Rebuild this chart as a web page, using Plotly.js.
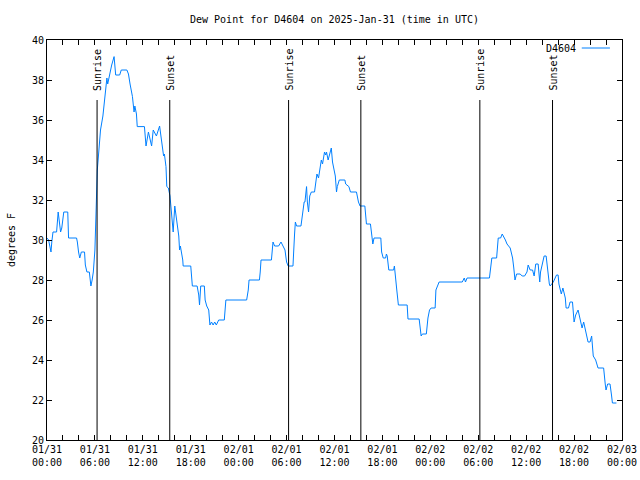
<!DOCTYPE html>
<html>
<head>
<meta charset="utf-8">
<script src="https://cdn.plot.ly/plotly-3.0.1.min.js"></script>
<style>html,body{margin:0;padding:0;background:#fff;}#chart{width:640px;height:480px;}</style>
</head>
<body>
<div id="chart"></div>
<script>
// Hours elapsed since 2025-01-31 00:00 UTC
const startUTC = Date.UTC(2025, 0, 31, 0, 0, 0);
const hoursUTC = [
0.0,0.2,0.4,0.5,0.6,0.75,1.2,1.4,1.55,1.7,1.85,2.1,2.6,2.7,3.7,3.8,3.95,4.1,4.3,4.7,4.8,5.0,5.3,5.4,5.5,5.65,5.8,6.0,6.1,6.25,6.3,6.5,6.7,7.0,7.2,7.4,7.5,7.6,7.9,8.1,8.4,8.5,8.6,9.1,9.3,10.0,10.2,10.4,10.7,10.9,11.0,11.2,11.3,12.2,12.3,12.4,12.7,12.9,13.1,13.3,13.7,14.1,14.3,14.6,14.7,14.9,15.0,
15.2,15.4,15.7,15.8,16.0,16.1,16.3,16.5,16.6,16.7,17.0,17.05,18.0,18.1,18.2,18.8,19.0,19.1,19.25,19.7,19.8,20.0,20.25,20.4,20.6,20.8,21.0,21.2,21.5,22.2,22.3,22.4,25.0,25.2,25.3,26.6,26.7,26.8,28.1,28.2,28.3,28.5,29.0,29.3,29.5,29.8,30.0,30.2,30.8,
30.9,31.0,31.1,31.25,31.8,31.9,32.1,32.2,32.3,32.4,32.5,32.6,32.75,32.9,33.1,33.5,33.7,33.8,34.0,34.2,34.35,34.5,34.75,34.9,35.0,35.2,35.4,35.6,35.75,35.9,36.1,36.25,36.35,36.6,37.3,37.4,37.8,38.0,38.75,39.0,39.2,39.8,39.9,40.0,40.5,40.7,40.8,40.95,41.8,41.9,42.1,42.4,42.5,42.6,42.8,43.4,43.5,43.8,44.0,45.1,
45.2,46.6,46.75,46.85,47.0,47.5,47.7,47.9,48.1,48.6,48.7,48.9,49.1,52.0,52.25,52.4,52.6,55.4,55.7,56.3,56.5,56.8,57.0,57.4,57.6,58.0,58.3,58.45,58.6,58.8,59.25,59.5,59.8,60.1,60.25,60.5,60.8,61.0,61.2,61.5,61.7,61.8,62.0,62.25,62.5,62.7,62.9,63.0,63.4,63.8,64.0,64.1,64.4,64.6,64.9,65.0,65.3,65.5,65.8,
66.0,66.2,66.5,66.8,67.0,67.2,67.5,67.75,68.0,68.2,68.4,68.7,69.0,69.7,69.9,70.0,70.2,70.5,70.7,70.8,71.3
];
const dewPointF = [
30.1,30.0,29.6,29.4,29.9,30.4,30.4,31.4,30.9,30.4,30.6,31.4,31.4,30.1,30.1,29.9,29.4,29.1,29.4,29.4,28.75,28.4,28.4,28.0,27.7,28.0,28.4,29.5,31.2,32.5,33.5,34.5,35.5,36.2,37.0,37.8,38.1,37.8,38.5,38.75,39.17,38.75,38.25,38.25,38.5,38.5,38.3,37.8,37.17,36.4,36.7,36.3,35.67,35.67,34.9,34.7,35.4,35.0,34.7,35.5,35.2,35.7,35.1,34.2,34.3,33.67,32.67,
32.6,32.2,30.9,30.4,31.7,31.4,30.67,30.2,29.5,29.7,29.0,28.7,28.7,28.0,27.7,27.7,27.25,26.75,27.7,27.7,27.0,26.7,26.5,25.75,25.9,25.75,25.9,25.75,26.0,26.0,26.7,27.0,27.0,27.5,28.0,28.0,28.4,29.0,29.0,29.67,29.9,29.7,29.7,29.9,29.7,29.5,28.9,28.7,28.7,
29.25,30.3,30.9,30.7,30.7,31.0,31.67,31.9,31.9,32.3,32.67,31.9,31.4,32.2,32.4,32.4,33.1,33.3,33.1,33.75,34.0,33.8,34.4,34.25,34.4,34.0,34.35,34.6,33.9,33.5,33.2,32.4,32.67,33.0,33.0,32.8,32.67,32.4,32.4,31.9,31.7,31.7,31.0,30.8,30.8,30.1,29.8,30.1,30.1,29.4,29.1,29.1,29.3,29.2,28.5,28.5,28.7,27.5,26.75,26.75,
26.05,26.05,25.3,25.2,25.3,25.3,26.1,26.5,26.6,26.6,27.5,27.67,27.9,27.9,28.1,27.9,28.1,28.1,29.1,29.1,30.1,30.1,30.3,30.0,29.8,29.6,29.1,28.6,28.0,28.3,28.3,28.2,28.2,28.4,28.75,28.5,28.5,28.2,28.8,28.8,27.9,28.4,28.8,29.2,29.2,28.3,27.8,27.7,27.9,28.25,28.25,27.8,27.3,27.6,27.1,26.6,26.6,26.9,26.9,
25.9,26.25,26.5,25.9,25.6,25.9,25.3,24.9,24.9,25.2,24.2,24.0,23.6,23.6,22.8,22.5,22.8,22.8,22.2,21.85,21.85
];
const sunEventHours = [6.27, 15.37, 30.25, 39.3, 54.2, 63.3];
const sunEventLabels = ["Sunrise", "Sunset", "Sunrise", "Sunset", "Sunrise", "Sunset"];
const stationName = "D4604";

function toDate(h) {
  return new Date(startUTC + h * 3600000).toISOString().replace('T', ' ').slice(0, 19);
}
const xDates = hoursUTC.map(toDate);
const FONT = "DejaVu Sans Mono";

const shapes = sunEventHours.map(h => ({
  type: 'line', xref: 'x', yref: 'y', x0: toDate(h), x1: toDate(h), y0: 20, y1: 37,
  line: {color: 'black', width: 1}
}));
shapes.push({type: 'line', xref: 'paper', yref: 'paper', x0: 0.930, x1: 0.979, y0: 0.98, y1: 0.98,
  line: {color: '#0080ff', width: 1}});

const annotations = sunEventHours.map((h, i) => ({
  x: toDate(h), y: 37.35, xref: 'x', yref: 'y', text: sunEventLabels[i], textangle: -90,
  showarrow: false, xanchor: 'center', yanchor: 'bottom', font: {family: FONT, size: 10, color: 'black'}
}));
annotations.push({x: 0.9235, y: 0.98, xref: 'paper', yref: 'paper', text: stationName, showarrow: false,
  xanchor: 'right', yanchor: 'middle', font: {family: FONT, size: 10, color: 'black'}});

const trace = {
  x: xDates, y: dewPointF, type: 'scatter', mode: 'lines', name: stationName,
  line: {color: '#0080ff', width: 1}, showlegend: false
};

const layout = {
  width: 640, height: 480,
  margin: {l: 47, r: 18, t: 40, b: 40},
  paper_bgcolor: 'white', plot_bgcolor: 'white',
  font: {family: FONT, size: 10, color: 'black'},
  title: {text: 'Dew Point for D4604 on 2025-Jan-31 (time in UTC)', x: 0.5, xref: 'paper',
    y: 1 - 19/480, yref: 'container', yanchor: 'middle', font: {family: FONT, size: 10, color: 'black'}},
  xaxis: {
    type: 'date', range: [toDate(0), toDate(72)], dtick: 6*3600000, tick0: toDate(0),
    tickformat: '%m/%d<br>%H:%M', ticks: 'inside', ticklen: 5, tickcolor: 'black',
    showline: true, linecolor: 'black', linewidth: 1, mirror: 'ticks', showgrid: false, zeroline: false,
    minor: {dtick: 2*3600000, tick0: toDate(0), ticks: 'inside', ticklen: 5, tickcolor: 'black', showgrid: false},
    tickfont: {family: FONT, size: 10, color: 'black'}, automargin: false
  },
  yaxis: {
    range: [20, 40], dtick: 2, ticks: 'inside', ticklen: 5, tickcolor: 'black',
    showline: true, linecolor: 'black', linewidth: 1, mirror: 'ticks', showgrid: false, zeroline: false,
    tickfont: {family: FONT, size: 10, color: 'black'}, automargin: false,
    title: {text: 'degrees F', font: {family: FONT, size: 10, color: 'black'}, standoff: 14}
  },
  shapes: shapes,
  annotations: annotations
};

Plotly.newPlot('chart', [trace], layout, {displayModeBar: false, staticPlot: true});
</script>
</body>
</html>
